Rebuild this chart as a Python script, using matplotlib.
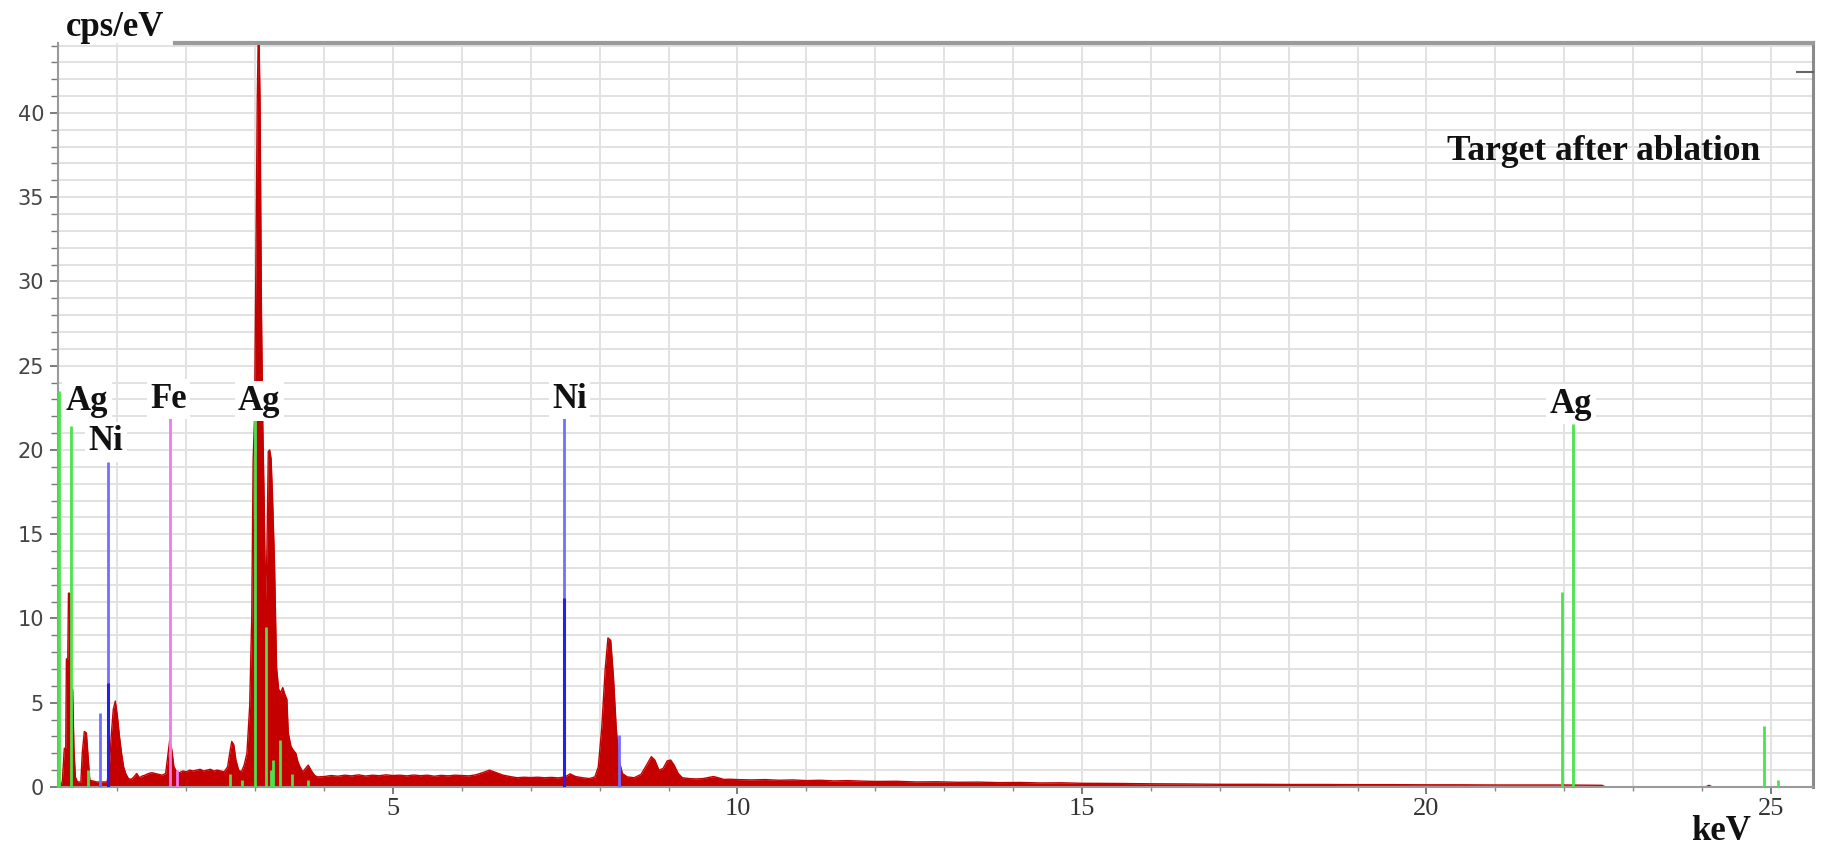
import matplotlib
matplotlib.use("Agg")
import matplotlib.pyplot as plt
from matplotlib.ticker import MultipleLocator

# ---------------- data ----------------
red_e = [0.14, 0.20, 0.23, 0.25, 0.26, 0.28, 0.29, 0.31, 0.32, 0.35, 0.37, 0.39, 0.42, 0.47,
         0.49, 0.52, 0.55, 0.58, 0.60, 0.70, 0.80, 0.85, 0.88, 0.91, 0.94, 0.97, 1.00, 1.03,
         1.06, 1.09, 1.12, 1.16, 1.20, 1.24, 1.28, 1.32, 1.36, 1.40, 1.45, 1.50, 1.55, 1.60,
         1.65, 1.70, 1.73, 1.76, 1.79, 1.82, 1.86, 1.90, 1.95, 2.00, 2.05, 2.10, 2.15, 2.20,
         2.25, 2.30, 2.35, 2.40, 2.45, 2.50, 2.55, 2.60, 2.63, 2.66, 2.69, 2.72, 2.76, 2.80,
         2.84, 2.88, 2.92, 2.95, 2.97, 2.99, 3.01, 3.03, 3.05, 3.07, 3.09, 3.11, 3.13, 3.15,
         3.17, 3.19, 3.21, 3.23, 3.25, 3.28, 3.31, 3.34, 3.37, 3.40, 3.43, 3.46, 3.48, 3.52,
         3.55, 3.59, 3.62, 3.65, 3.69, 3.73, 3.77, 3.81, 3.86, 3.90,
         4.0, 4.1, 4.2, 4.3, 4.4, 4.5, 4.6, 4.7, 4.8, 4.9, 5.0, 5.1, 5.2, 5.3, 5.4, 5.5, 5.6,
         5.7, 5.8, 5.9, 6.0, 6.1, 6.2, 6.3, 6.4, 6.5, 6.6, 6.7, 6.8, 6.9, 7.0, 7.1, 7.2, 7.3,
         7.4, 7.5, 7.57, 7.65, 7.75, 7.85, 7.93, 7.98, 8.03, 8.08, 8.12, 8.16, 8.20, 8.24,
         8.28, 8.33, 8.40, 8.50, 8.60, 8.68, 8.75, 8.80, 8.86, 8.92, 8.98, 9.03, 9.08, 9.14,
         9.20, 9.30, 9.40, 9.50, 9.60, 9.65, 9.72, 9.80, 9.90, 10.0, 10.2, 10.4, 10.6, 10.8,
         11.0, 11.2, 11.4, 11.6, 11.8, 12.0, 12.3, 12.6, 12.9, 13.2, 13.5, 13.8, 14.1, 14.4,
         14.7, 15.0, 15.5, 16.0, 16.5, 17.0, 17.5, 18.0, 18.5, 19.0, 19.5, 20.0, 20.5, 21.0,
         21.5, 22.0, 22.55, 22.60, 24.05, 24.10, 24.15]
red_c = [0.0, 0.3, 2.3, 2.3, 7.6, 7.6, 11.5, 11.5, 5.8, 5.8, 2.2, 0.6, 0.3, 0.3,
         2.0, 3.3, 3.2, 1.5, 0.4, 0.3, 0.3, 0.3, 1.0, 3.0, 4.6, 5.1, 4.2, 3.0,
         2.0, 1.2, 0.8, 0.5, 0.45, 0.6, 0.8, 0.55, 0.65, 0.7, 0.8, 0.85, 0.8, 0.75,
         0.7, 0.8, 1.8, 2.8, 2.2, 1.2, 0.9, 0.85, 0.95, 0.9, 1.0, 0.95, 1.0, 1.05,
         0.95, 1.0, 1.05, 0.95, 1.0, 0.95, 0.9, 1.2, 2.0, 2.7, 2.5, 1.6, 1.0, 0.9,
         1.3, 2.0, 4.8, 10.1, 19.4, 21.8, 30.9, 40.8, 46.0, 40.8, 28.5, 21.5, 17.0, 11.1,
         14.0, 19.9, 20.0, 19.5, 17.4, 13.3, 7.1, 5.8, 5.6, 5.9, 5.5, 5.2, 3.2, 2.4,
         2.2, 2.0, 1.5, 1.2, 0.9, 1.1, 1.3, 1.0, 0.7, 0.6,
         0.62, 0.68, 0.64, 0.70, 0.66, 0.72, 0.65, 0.70, 0.67, 0.72, 0.68, 0.70, 0.66, 0.71, 0.67, 0.70, 0.64,
         0.69, 0.66, 0.70, 0.68, 0.66, 0.72, 0.85, 1.0, 0.85, 0.70, 0.62, 0.55, 0.58, 0.56, 0.58, 0.55, 0.57,
         0.54, 0.60, 0.78, 0.62, 0.55, 0.50, 0.60, 1.2, 3.5, 7.0, 8.85, 8.7, 6.5, 3.5,
         1.6, 0.8, 0.6, 0.55, 0.75, 1.3, 1.8, 1.6, 1.0, 1.1, 1.55, 1.6, 1.3, 0.8,
         0.55, 0.50, 0.48, 0.50, 0.58, 0.62, 0.55, 0.45, 0.46, 0.44, 0.42, 0.44, 0.40, 0.42,
         0.38, 0.40, 0.36, 0.38, 0.35, 0.33, 0.34, 0.30, 0.31, 0.28, 0.29, 0.26, 0.27, 0.24,
         0.25, 0.22, 0.21, 0.19, 0.18, 0.16, 0.16, 0.15, 0.15, 0.14, 0.14, 0.13, 0.13, 0.12,
         0.12, 0.12, 0.10, 0.0, 0.0, 0.10, 0.0]

green_e = [0.15, 0.33, 0.58, 2.63, 2.81, 2.99, 3.15, 3.23, 3.26, 3.36, 3.54, 3.76, 21.97, 22.13, 24.90, 25.10]
green_h = [23.5, 21.4, 1.0, 0.8, 0.4, 21.8, 9.5, 1.0, 1.6, 2.8, 0.8, 0.4, 11.6, 21.55, 3.6, 0.4]

blue_e = [0.75, 0.86, 7.48, 8.28]
blue_h = [4.4, 19.3, 21.9, 3.1]
blue_dark_e = [0.86, 7.48]
blue_dark_h = [6.2, 11.2]

pink_e = [1.76, 1.86]
pink_h = [21.9, 1.0]

labels = ["Ag", "Ni", "Fe", "Ag", "Ni", "Ag"]
label_x = [0.56, 0.83, 1.74, 3.06, 7.56, 22.1]
label_y = [22.9, 20.5, 23.0, 22.9, 23.0, 22.7]

x_ticks = [5, 10, 15, 20, 25]
y_ticks = [0, 5, 10, 15, 20, 25, 30, 35, 40]

XMIN, XMAX = 0.138, 25.61
YMIN, YMAX = 0.0, 44.15

# ---------------- figure ----------------
W, H = 1825, 855
fig = plt.figure(figsize=(W / 100, H / 100), dpi=100)
ax = fig.add_axes([58 / W, 1 - 787 / H, (1813 - 58) / W, (787 - 43) / H])
ax.set_xlim(XMIN, XMAX)
ax.set_ylim(YMIN, YMAX)

# grid
ax.xaxis.set_major_locator(MultipleLocator(5))
ax.xaxis.set_minor_locator(MultipleLocator(1))
ax.yaxis.set_major_locator(MultipleLocator(5))
ax.yaxis.set_minor_locator(MultipleLocator(1))
ax.grid(which="both", color="#e2e2e2", lw=1.4, zorder=0)
ax.set_axisbelow(True)

# spectrum
ax.fill_between(red_e, 0, red_c, color="#c40000", lw=0, zorder=2)
ax.plot(red_e, red_c, color="#c40000", lw=1.0, zorder=2)

# element marker lines
ax.vlines(green_e, 0, green_h, color="#4be34b", lw=2.0, zorder=3)
ax.vlines(blue_e, 0, blue_h, color="#7070ff", lw=2.0, zorder=3)
ax.vlines(blue_dark_e, 0, blue_dark_h, color="#2020f0", lw=2.2, zorder=3)
ax.vlines(pink_e, 0, pink_h, color="#f07af0", lw=2.0, zorder=3)

# element labels
for t, x, y in zip(labels, label_x, label_y):
    ax.text(x, y, t, ha="center", va="center", fontsize=25, fontweight="bold",
            family="Liberation Serif", color="#111111", zorder=5,
            bbox=dict(boxstyle="square,pad=0.1", fc="white", ec="none"))

ax.text(24.84, 37.7, "Target after ablation", ha="right", va="center", fontsize=25.5,
        fontweight="bold", family="Liberation Serif", color="#111111", zorder=5)

# spines
for s in ["left", "bottom"]:
    ax.spines[s].set_color("#9a9a9a")
    ax.spines[s].set_linewidth(1.5)
ax.spines["right"].set_color("#8a8a8a")
ax.spines["right"].set_linewidth(2.2)
ax.spines["top"].set_visible(False)
ax.plot([1.84, XMAX], [YMAX, YMAX], color="#9a9a9a", lw=3, clip_on=False, zorder=6)
ax.plot([25.38, XMAX], [42.4, 42.4], color="#666666", lw=1.5, clip_on=False, zorder=6)

# ticks
ax.set_xticks(x_ticks)
ax.set_xticklabels([str(v) for v in x_ticks])
ax.set_yticks(y_ticks)
ax.set_yticklabels([str(v) for v in y_ticks])
ax.tick_params(axis="x", which="major", direction="out", length=5, width=1.2,
               color="#666666", labelsize=19, labelcolor="#333333", pad=3)
ax.tick_params(axis="x", which="minor", direction="out", length=3, width=1.0, color="#888888")
ax.tick_params(axis="y", which="major", direction="out", length=6, width=1.2,
               color="#666666", labelsize=15, labelcolor="#444444", pad=4)
ax.tick_params(axis="y", which="minor", direction="out", length=5, width=1.0, color="#777777")
for lbl in ax.get_xticklabels():
    lbl.set_family("Liberation Serif")
for lbl in ax.get_yticklabels():
    lbl.set_family("DejaVu Sans")

# axis titles
fig.text(115 / W, 1 - 27 / H, "cps/eV", ha="center", va="center", fontsize=25,
         fontweight="bold", family="Liberation Serif", color="#111111")
fig.text(1721 / W, 1 - 831 / H, "keV", ha="center", va="center", fontsize=25,
         fontweight="bold", family="Liberation Serif", color="#111111")

fig.savefig("out.png", dpi=100, facecolor="white")
